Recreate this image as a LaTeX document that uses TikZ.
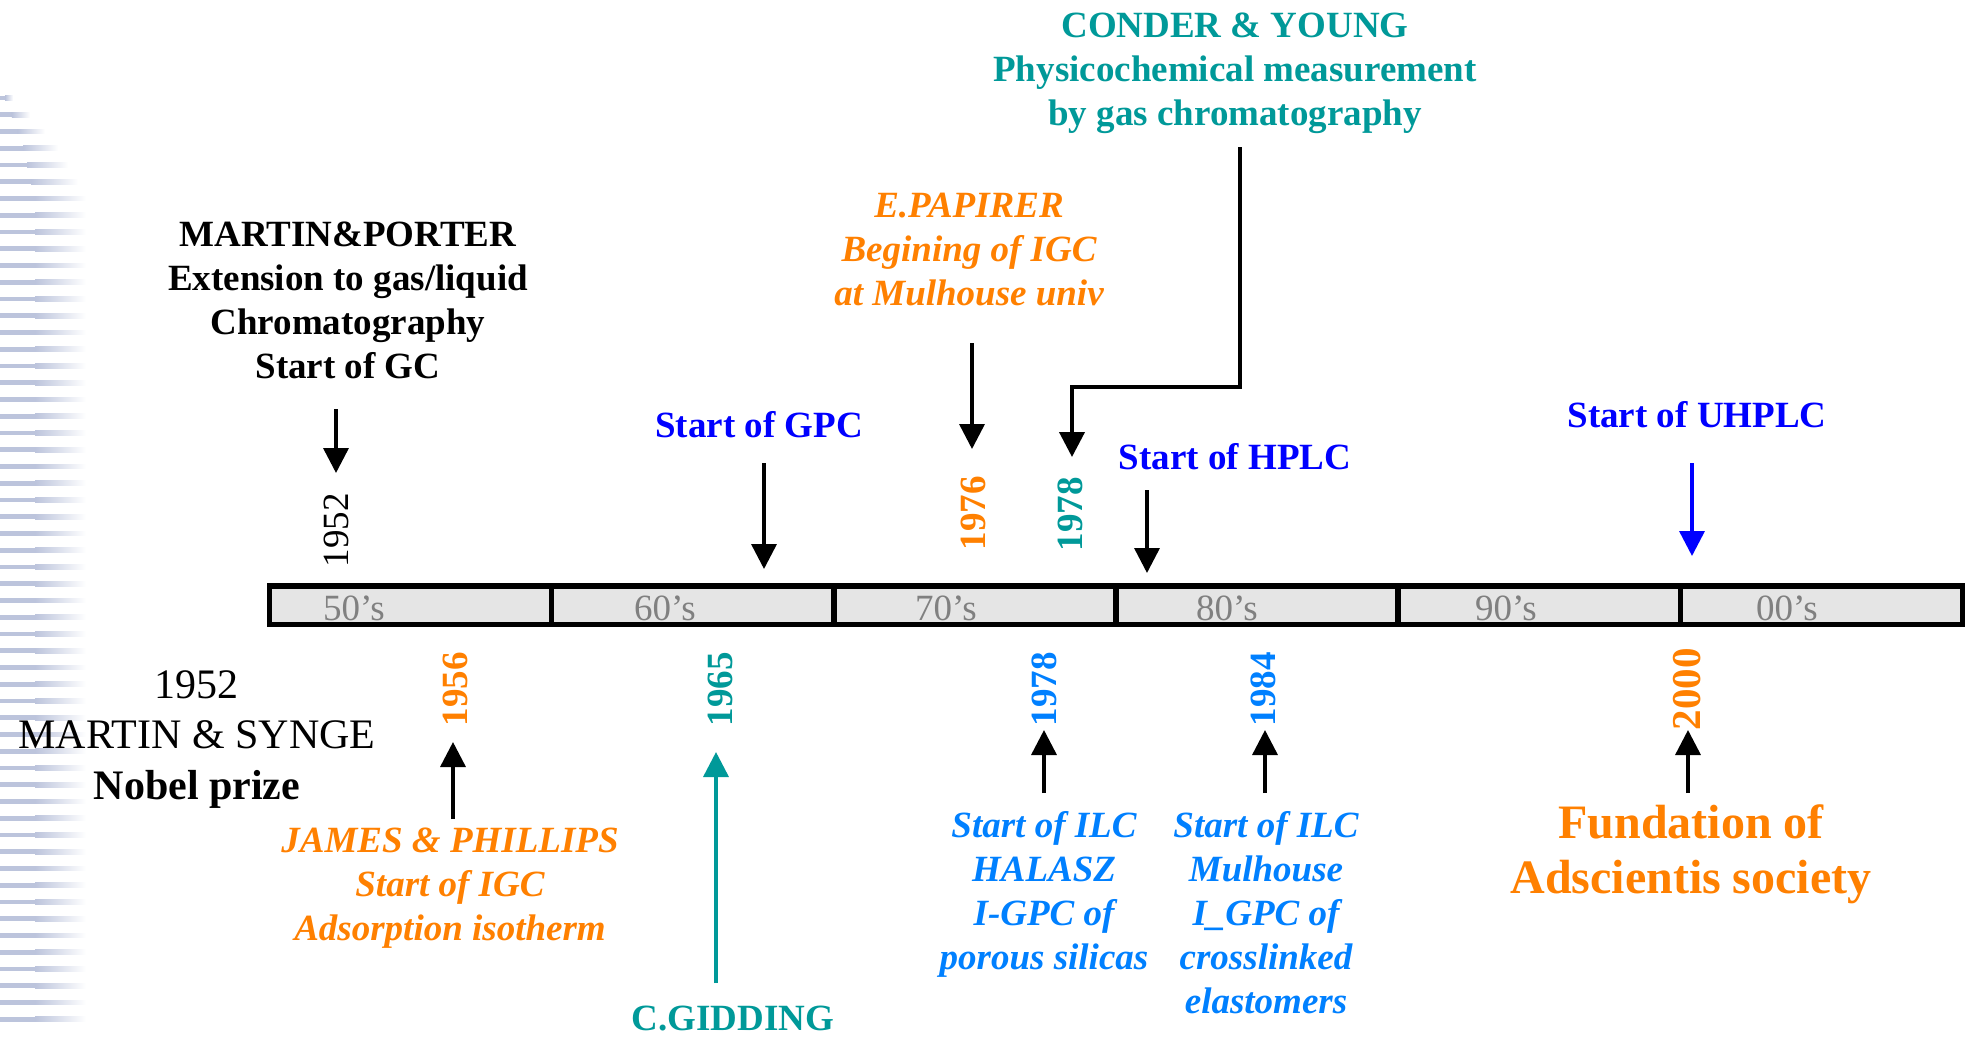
\documentclass[tikz,border=0pt]{standalone}
\usepackage{fontspec}
\setmainfont{Liberation Serif}
\usetikzlibrary{arrows.meta}
\definecolor{cOrange}{RGB}{255,128,0}
\definecolor{cTeal}{RGB}{0,153,153}
\definecolor{cBlue}{RGB}{0,0,255}
\definecolor{cLBlue}{RGB}{0,128,255}
\definecolor{cGrey}{RGB}{128,128,128}
\definecolor{cBar}{RGB}{229,229,229}
\definecolor{cStripe}{RGB}{188,196,220}
\newcommand\topstrutX{\rule{0pt}{0.85em}}
\begin{document}
\begin{tikzpicture}[x=1pt,y=-1pt,
  every node/.style={inner sep=0pt, outer sep=0pt},
  lbl/.style={font=\fontsize{37}{44}\selectfont\bfseries, align=center},
  lbli/.style={font=\fontsize{37}{44}\selectfont\bfseries\itshape, align=center},
  yr/.style={font=\fontsize{37}{44}\selectfont\bfseries, rotate=90},
  dec/.style={font=\fontsize{37}{44}\selectfont, text=cGrey, anchor=base},
  seg/.style={draw=black, fill=cBar, line width=5.5pt, minimum width=282.17pt, minimum height=38.5pt, anchor=north west},
  arr/.style={line width=3.5pt, -{Triangle[length=25pt,width=25pt]}},
]
\useasboundingbox (0,0) rectangle (1973,1037);
\fill[white] (0,0) rectangle (1973,1037);
% striped background on the left
\foreach \i/\L in {0/13,1/30,2/45,3/58,4/68,5/78}{
  \fill[cStripe] (0,{98+\i*16.75-2.4}) rectangle ({0.4*\L},{98+\i*16.75+2.4});
  \shade[left color=cStripe, right color=white] ({0.4*\L},{98+\i*16.75-2.4}) rectangle (\L,{98+\i*16.75+2.4});
}
\foreach \i in {6,...,55}{
  \fill[cStripe] (0,{98+\i*16.75-2.4}) rectangle (35,{98+\i*16.75+2.4});
  \shade[left color=cStripe, right color=white] (35,{98+\i*16.75-2.4}) rectangle (86,{98+\i*16.75+2.4});
}
% timeline bar
\node[seg] (d50) at (269.5,586) {};
\node[seg] (d60) at (551.67,586) {};
\node[seg] (d70) at (833.84,586) {};
\node[seg] (d80) at (1116.01,586) {};
\node[seg] (d90) at (1398.18,586) {};
\node[seg] (d00) at (1680.35,586) {};
\node[dec] (t50) at (354,620) {50’s};
\node[dec] (t60) at (665,620) {60’s};
\node[dec] (t70) at (946,620) {70’s};
\node[dec] (t80) at (1227,620) {80’s};
\node[dec] (t90) at (1506,620) {90’s};
\node[dec] (t00) at (1787,620) {00’s};
% top labels
\node[lbl, anchor=north] (mp) at (348,215.5) {\topstrutX MARTIN\&PORTER\\Extension to gas/liquid\\Chromatography\\Start of GC};
\node[lbl, text=cBlue, anchor=base] (gpc) at (759,437) {Start of GPC};
\node[lbli, text=cOrange, anchor=north] (pap) at (969,186.5) {\topstrutX E.PAPIRER\\Begining of IGC\\at Mulhouse univ};
\node[lbl, text=cTeal, anchor=north] (cy) at (1235,6.5) {\topstrutX CONDER \& YOUNG\\Physicochemical measurement\\by gas chromatography};
\node[lbl, text=cBlue, anchor=base] (hplc) at (1235,469) {Start of HPLC};
\node[lbl, text=cBlue, anchor=base] (uhplc) at (1697,427) {Start of UHPLC};
% top years
\node[yr, font=\fontsize{37}{44}\selectfont, text=black] (y52) at (336,530) {1952};
\node[yr, text=cOrange] (y76) at (973,513) {1976};
\node[yr, text=cTeal] (y78a) at (1070,514) {1978};
% bottom years
\node[yr, text=cOrange] (y56) at (455,689) {1956};
\node[yr, text=cTeal] (y65) at (720,689) {1965};
\node[yr, text=cLBlue] (y78b) at (1044,689) {1978};
\node[yr, text=cLBlue] (y84) at (1263,689) {1984};
\node[yr, text=cOrange, font=\fontsize{41}{48}\selectfont\bfseries] (y00) at (1687,689) {2000};
% bottom labels
\node[font=\fontsize{42}{50.5}\selectfont, align=center, anchor=north] (nob) at (197,662.3) {\topstrutX 1952\\MARTIN \& SYNGE\\\textbf{Nobel prize}};
\node[lbli, text=cOrange, anchor=north] (jp) at (450,821.5) {\topstrutX JAMES \& PHILLIPS\\Start of IGC\\Adsorption isotherm};
\node[lbl, text=cTeal, anchor=base] (gid) at (733,1030) {C.GIDDING};
\node[lbli, text=cLBlue, anchor=north] (ilc1) at (1044,806.5) {\topstrutX Start of ILC\\HALASZ\\I-GPC of\\porous silicas};
\node[lbli, text=cLBlue, anchor=north] (ilc2) at (1266,806.5) {\topstrutX Start of ILC\\Mulhouse\\I\_GPC of\\crosslinked\\elastomers};
\node[font=\fontsize{48}{55.5}\selectfont\bfseries, text=cOrange, align=center, anchor=north] (fund) at (1691,797.2) {\topstrutX Fundation of\\Adscientis society};
% connector end points
\coordinate (mpA) at (336,409);   \coordinate (y52A) at (336,473);
\coordinate (gpcA) at (764,463);  \coordinate (gpcB) at (764,569);
\coordinate (papA) at (972,343);  \coordinate (y76A) at (972,449);
\coordinate (cyA) at (1240,147);  \coordinate (cyB) at (1240,387);
\coordinate (cyC) at (1072,387);  \coordinate (y78aA) at (1072,457);
\coordinate (hplcA) at (1147,490); \coordinate (hplcB) at (1147,573);
\coordinate (uhA) at (1692,463);  \coordinate (uhB) at (1692,556);
\coordinate (jpA) at (453,819);   \coordinate (y56A) at (453,742);
\coordinate (gidA) at (716,983);  \coordinate (y65A) at (716,752);
\coordinate (ilc1A) at (1044,793); \coordinate (y78bA) at (1044,730);
\coordinate (ilc2A) at (1265,793); \coordinate (y84A) at (1265,730);
\coordinate (fundA) at (1688,793); \coordinate (y00A) at (1688,730);
% connectors
\draw[arr] (mpA) -- (y52A);
\draw[arr] (gpcA) -- (gpcB);
\draw[arr] (papA) -- (y76A);
\draw[arr, line width=4pt] (cyA) -- (cyB) -- (cyC) -- (y78aA);
\draw[arr] (hplcA) -- (hplcB);
\draw[arr, draw=cBlue, fill=cBlue] (uhA) -- (uhB);
\draw[arr] (jpA) -- (y56A);
\draw[arr, draw=cTeal, fill=cTeal] (gidA) -- (y65A);
\draw[arr] (ilc1A) -- (y78bA);
\draw[arr] (ilc2A) -- (y84A);
\draw[arr] (fundA) -- (y00A);
\end{tikzpicture}
\end{document}
